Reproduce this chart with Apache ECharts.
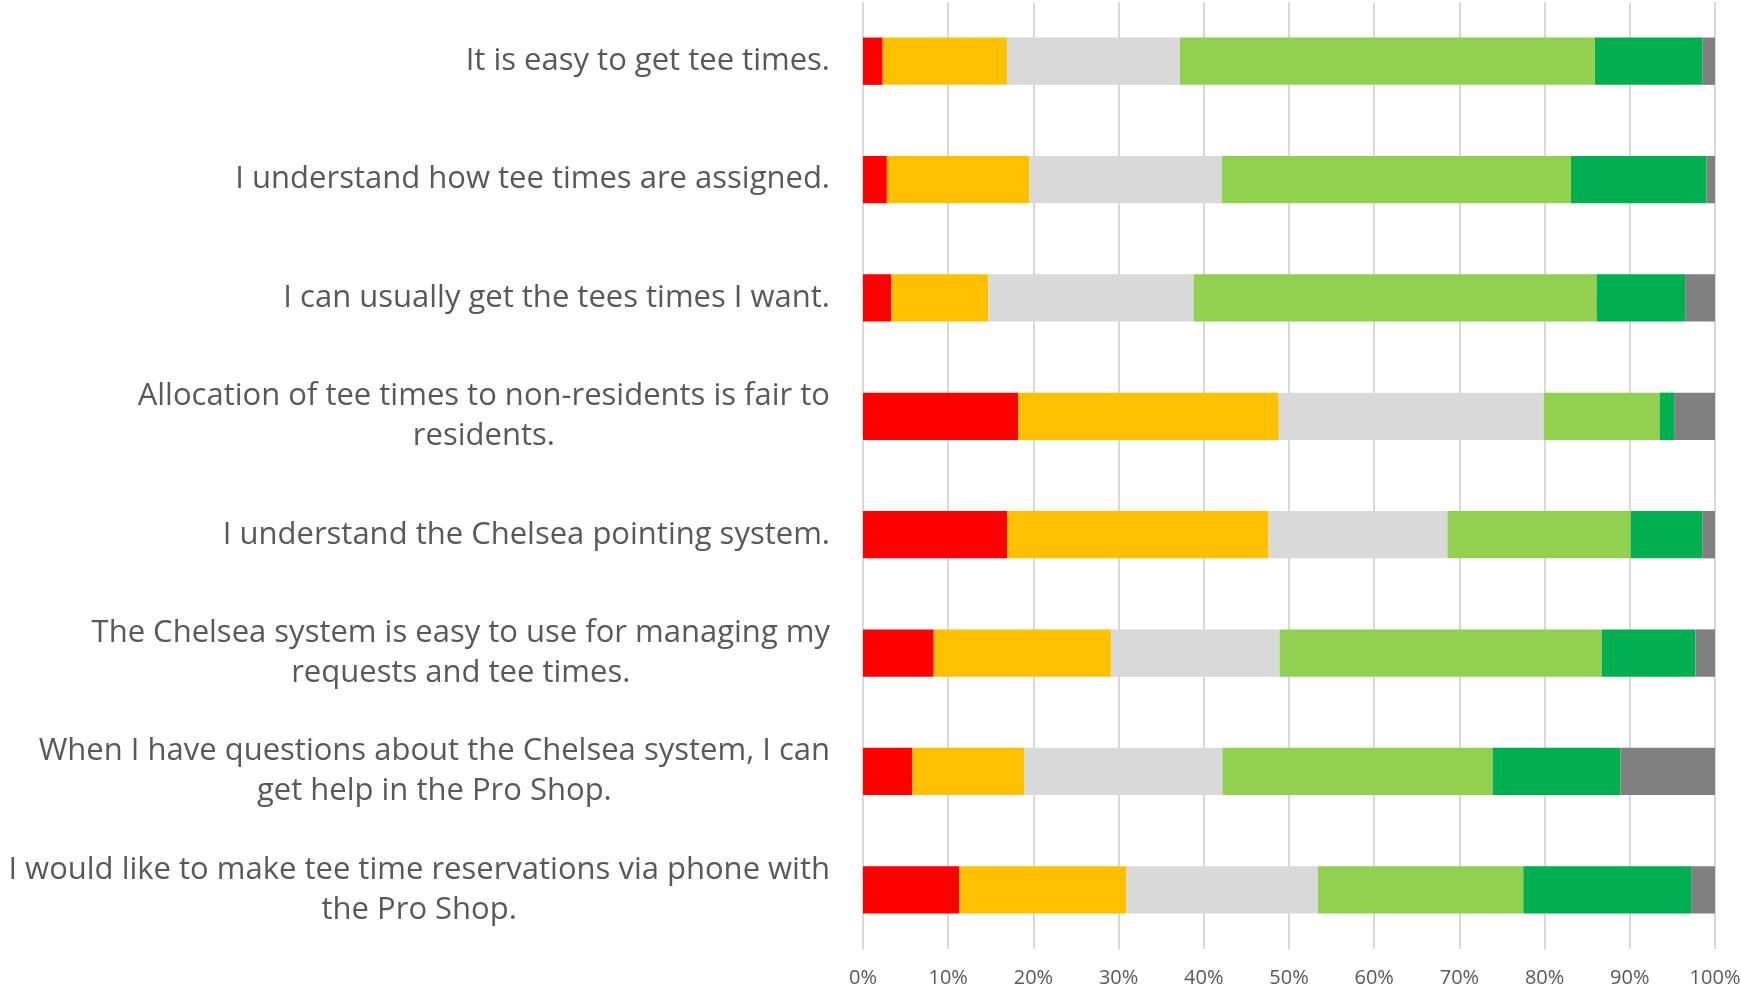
<!DOCTYPE html>
<html>
<head>
<meta charset="utf-8">
<title>Tee times survey</title>
<script src="https://cdn.jsdelivr.net/npm/echarts@6.0.0/dist/echarts.min.js"></script>
<style>
  html, body { margin: 0; padding: 0; background: #fff; }
  #myChart { width: 1741px; height: 993px; }
</style>
</head>
<body>
<div id="myChart"></div>
<script>
const categories = [
  "It is easy to get tee times.",
  "I understand how tee times are assigned.",
  "I can usually get the tees times I want.",
  "Allocation of tee times to non-residents is fair to\nresidents.",
  "I understand the Chelsea pointing system.",
  "The Chelsea system is easy to use for managing my\nrequests and tee times.",
  "When I have questions about the Chelsea system, I can\nget help in the Pro Shop.",
  "I would like to make tee time reservations via phone with\nthe Pro Shop."
];

// percent of answers, top row first
const stronglyDisagree = [2.3, 2.8, 3.3, 18.2, 16.9, 8.3, 5.8, 11.3];
const disagree = [14.6, 16.7, 11.4, 30.6, 30.7, 20.8, 13.1, 19.6];
const neutral = [20.3, 22.6, 24.1, 31.1, 21.0, 19.8, 23.3, 22.5];
const agree = [48.7, 41.0, 47.3, 13.6, 21.5, 37.8, 31.7, 24.1];
const stronglyAgree = [12.6, 15.9, 10.4, 1.7, 8.4, 11.0, 15.0, 19.7];
const noOpinion = [1.5, 1.0, 3.5, 4.8, 1.5, 2.3, 11.1, 2.8];

const seriesNames = ["Strongly Disagree", "Disagree", "Neutral", "Agree", "Strongly Agree", "No Opinion"];
const seriesColors = ["#FF0000", "#FFC000", "#D9D9D9", "#92D050", "#00B050", "#808080"];
const seriesData = [stronglyDisagree, disagree, neutral, agree, stronglyAgree, noOpinion];

let myChart = echarts.init(document.getElementById("myChart"));
myChart.setOption({
  animation: false,
  textStyle: { fontFamily: "Open Sans" },
  grid: {
    left: 863,
    right: 26,
    top: 2,
    bottom: 44,
    containLabel: false,
    outerBoundsMode: "none"
  },
  xAxis: {
    type: "value",
    min: 0,
    max: 100,
    interval: 10,
    axisLine: { show: false },
    axisTick: { show: false },
    splitLine: { lineStyle: { color: "#D9D9D9", width: 2 } },
    axisLabel: {
      formatter: "{value}%",
      color: "#595959",
      fontSize: 20,
      margin: 19
    }
  },
  yAxis: {
    type: "category",
    inverse: true,
    data: categories,
    axisLine: { show: false },
    axisTick: { show: false },
    axisLabel: {
      margin: 33,
      formatter: function(value) {
        return "{c|" + value + "}";
      },
      rich: {
        c: {
          align: "center",
          color: "#595959",
          fontSize: 31,
          lineHeight: 40,
          fontFamily: "Open Sans"
        }
      }
    }
  },
  series: seriesNames.map(function(name, i) {
    return {
      name: name,
      type: "bar",
      stack: "total",
      barWidth: "40%",
      itemStyle: { color: seriesColors[i] },
      data: seriesData[i]
    };
  })
});
</script>
</body>
</html>
